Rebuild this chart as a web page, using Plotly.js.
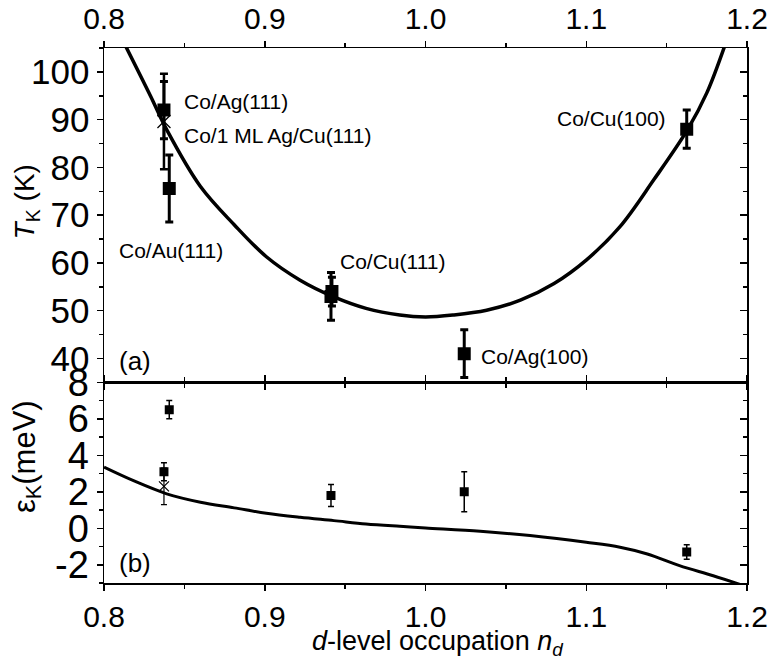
<!DOCTYPE html>
<html><head><meta charset="utf-8">
<script src="https://cdn.plot.ly/plotly-3.0.1.min.js"></script>
<style>html,body{margin:0;padding:0;background:#fff}</style>
</head><body><div id="chart" style="width:771px;height:660px"></div>
<script>
// ---- panel (a): Kondo temperature ----
const tkCurveX = [0.813, 0.829, 0.839, 0.860, 0.881, 0.901, 0.922, 0.943, 0.963, 0.984, 1.000, 1.017, 1.038, 1.059, 1.080, 1.100, 1.121, 1.142, 1.163, 1.175, 1.186];
const tkCurveY = [105.7, 94.9, 87.9, 76.0, 68.0, 61.3, 56.4, 52.9, 50.5, 49.1, 48.7, 49.1, 50.1, 52.2, 55.7, 60.6, 67.6, 77.4, 87.9, 95.6, 105.3];
const tkX   = [0.8373, 0.8406, 0.9412, 0.9418, 1.0241, 1.1625];
const tkY   = [92, 75.6, 53, 54, 41, 88];
const tkErr = [6, 7, 5, 3, 5, 4];
const tkCrossX = [0.8373];
const tkCrossY = [89.6];
const tkCrossErr = [10];

// ---- panel (b): epsilon_K ----
const ekCurveX = [0.800, 0.818, 0.839, 0.860, 0.881, 0.901, 0.922, 0.943, 0.963, 0.984, 1.000, 1.034, 1.065, 1.100, 1.121, 1.138, 1.158, 1.179, 1.196];
const ekCurveY = [3.35, 2.62, 1.89, 1.43, 1.12, 0.82, 0.60, 0.42, 0.24, 0.11, 0.02, -0.16, -0.40, -0.77, -1.04, -1.41, -2.05, -2.60, -3.09];
const ekX   = [0.8373, 0.8406, 0.9412, 1.0241, 1.1625];
const ekY   = [3.1, 6.5, 1.8, 2.0, -1.3];
const ekErr = [0.5, 0.5, 0.6, 1.1, 0.4];
const ekCrossX = [0.8373];
const ekCrossY = [2.3];
const ekCrossErr = [1.0];

// ---- labels ----
const sampleNames = ["Co/Ag(111)", "Co/1 ML Ag/Cu(111)", "Co/Au(111)", "Co/Cu(111)", "Co/Ag(100)", "Co/Cu(100)"];
const labelX = [0.8485, 0.8485, 0.8079, 0.9458, 1.0335, 1.1511];
const labelY = [93.8, 86.6, 62.7, 60.4, 40.4, 90.2];
const labelAnchor = ["left", "left", "left", "left", "left", "right"];
const xTickRange = [0.8, 1.2];
const tkRange = [35, 105];
const ekRange = [-3, 8];
const ekTickVals = [-2, 0, 2, 4, 6, 8];
const ekTickText = ["-2", "0", "2", "4", "6", "8"];

const FONT = "Arial, 'Liberation Sans', sans-serif";
const K = "black";

const traces = [
  {x: tkCurveX, y: tkCurveY, xaxis: "x2", yaxis: "y2", mode: "lines",
   line: {color: K, width: 3.5, shape: "spline"}, hoverinfo: "skip"},
  {x: tkX, y: tkY, xaxis: "x2", yaxis: "y2", mode: "markers",
   marker: {symbol: "square", size: 13, color: K},
   error_y: {type: "data", array: tkErr, visible: true, color: K, thickness: 3, width: 4}},
  {x: tkCrossX, y: tkCrossY, xaxis: "x2", yaxis: "y2", mode: "markers",
   marker: {symbol: "x-thin-open", size: 13, color: K, line: {color: K, width: 1.3}},
   error_y: {type: "data", array: tkCrossErr, visible: true, color: K, thickness: 2.5, width: 4}},
  {x: ekCurveX, y: ekCurveY, xaxis: "x", yaxis: "y", mode: "lines",
   line: {color: K, width: 3, shape: "spline"}, hoverinfo: "skip"},
  {x: ekX, y: ekY, xaxis: "x", yaxis: "y", mode: "markers",
   marker: {symbol: "square", size: 9, color: K},
   error_y: {type: "data", array: ekErr, visible: true, color: K, thickness: 1.5, width: 3}},
  {x: ekCrossX, y: ekCrossY, xaxis: "x", yaxis: "y", mode: "markers",
   marker: {symbol: "x-thin-open", size: 10, color: K, line: {color: K, width: 1.2}},
   error_y: {type: "data", array: ekCrossErr, visible: true, color: K, thickness: 1.2, width: 3}},
  {x: [null], y: [null], xaxis: "x", yaxis: "y3", mode: "markers", hoverinfo: "skip"},
  {x: [null], y: [null], xaxis: "x2", yaxis: "y4", mode: "markers", hoverinfo: "skip"}
];

const xCommon = {
  range: xTickRange, tick0: 0.8, dtick: 0.1, tickformat: ".1f",
  ticks: "outside", ticklen: 6, tickwidth: 1.5, tickcolor: K,
  showline: true, linewidth: 1.5, linecolor: K, mirror: "ticks",
  minor: {tick0: 0.8, dtick: 0.05, ticks: "outside", ticklen: 4, tickwidth: 1.5, tickcolor: K},
  showgrid: false, zeroline: false, tickfont: {size: 30, color: K, family: FONT}
};

const annotations = sampleNames.map((t, i) => ({
  text: t, x: labelX[i], y: labelY[i], xref: "x2", yref: "y2",
  xanchor: labelAnchor[i], yanchor: "middle", showarrow: false,
  font: {size: 21, color: K, family: FONT}
}));
annotations.push(
  {text: "(a)", x: 0.8079, y: 39.4, xref: "x2", yref: "y2", xanchor: "left", yanchor: "middle",
   showarrow: false, font: {size: 26, color: K, family: FONT}},
  {text: "(b)", x: 0.8079, y: -1.88, xref: "x", yref: "y", xanchor: "left", yanchor: "middle",
   showarrow: false, font: {size: 26, color: K, family: FONT}},
  {text: "<i>T</i><sub>K</sub> (K)", x: -0.12, y: 0.713, xref: "paper", yref: "paper",
   textangle: -90, xanchor: "center", yanchor: "middle", showarrow: false,
   font: {size: 28, color: K, family: FONT}},
  {text: "ε<sub>K</sub>(meV)", x: -0.12, y: 0.237, xref: "paper", yref: "paper",
   textangle: -90, xanchor: "center", yanchor: "middle", showarrow: false,
   font: {size: 31, color: K, family: FONT}},
  {text: "<i>d</i>-level occupation <i>n</i><sub><i>d</i></sub>", x: 0.518, y: -0.113,
   xref: "paper", yref: "paper", xanchor: "center", yanchor: "middle", showarrow: false,
   font: {size: 27, color: K, family: FONT}}
);

const layout = {
  width: 771, height: 660,
  margin: {l: 104, r: 24, t: 48, b: 77},
  paper_bgcolor: "white", plot_bgcolor: "white",
  showlegend: false,
  font: {family: FONT, color: K},
  xaxis: Object.assign({}, xCommon, {anchor: "y", side: "bottom", domain: [0, 1]}),
  xaxis2: Object.assign({}, xCommon, {anchor: "y2", side: "top", domain: [0, 1]}),
  yaxis: {
    domain: [0, 0.375], anchor: "x", range: ekRange,
    tickmode: "array", tickvals: ekTickVals, ticktext: ekTickText,
    ticks: "outside", ticklen: 6, tickwidth: 1.5, tickcolor: K,
    minor: {tickmode: "linear", tick0: -3, dtick: 1, ticks: "outside", ticklen: 4, tickwidth: 1.5, tickcolor: K},
    showline: true, linewidth: 1.5, linecolor: K, mirror: true,
    showgrid: false, zeroline: false, tickfont: {size: 38, color: K, family: FONT}
  },
  yaxis2: {
    domain: [0.375, 1], anchor: "x2", range: tkRange, tick0: 0, dtick: 10,
    ticks: "outside", ticklen: 6, tickwidth: 1.5, tickcolor: K,
    minor: {tick0: 0, dtick: 5, ticks: "outside", ticklen: 4, tickwidth: 1.5, tickcolor: K},
    showline: true, linewidth: 1.5, linecolor: K, mirror: true,
    showgrid: false, zeroline: false, tickfont: {size: 35, color: K, family: FONT}
  },
  yaxis3: {
    overlaying: "y", side: "right", anchor: "x", range: ekRange,
    tickmode: "array", tickvals: ekTickVals, showticklabels: false,
    ticks: "inside", ticklen: 7, tickwidth: 1.5, tickcolor: K,
    minor: {tickmode: "linear", tick0: -3, dtick: 1, ticks: "inside", ticklen: 4, tickwidth: 1.5, tickcolor: K},
    showline: false, showgrid: false, zeroline: false
  },
  yaxis4: {
    overlaying: "y2", side: "right", anchor: "x2", range: tkRange, tick0: 0, dtick: 10,
    showticklabels: false,
    ticks: "inside", ticklen: 7, tickwidth: 1.5, tickcolor: K,
    minor: {tick0: 0, dtick: 5, ticks: "inside", ticklen: 4, tickwidth: 1.5, tickcolor: K},
    showline: false, showgrid: false, zeroline: false
  },
  annotations: annotations
};

Plotly.newPlot("chart", traces, layout, {displayModeBar: false, staticPlot: true});
</script></body></html>
